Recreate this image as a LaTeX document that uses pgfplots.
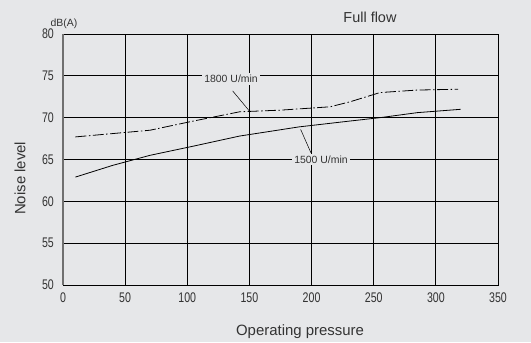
\documentclass[border=0pt]{standalone}
\usepackage{fontspec}
\setmainfont{Liberation Sans}
\newfontfamily\tickfont[FakeStretch=0.76]{Liberation Sans}
\usepackage{pgfplots}
\pgfplotsset{compat=1.18}
\definecolor{bg}{HTML}{E6E7E9}
\definecolor{txt}{HTML}{333333}
\definecolor{leftax}{HTML}{707070}

\begin{document}
\begin{tikzpicture}
  % page background
  \fill[bg] (-63bp,-57bp) rectangle (468bp,285bp);
  \begin{axis}[
    scale only axis,
    width=435bp,
    height=251bp,
    xmin=0, xmax=350,
    ymin=50, ymax=80,
    xtick={0,50,...,350},
    ytick={50,55,...,80},
    major tick length=0pt,
    grid=major,
    grid style={black, line width=0.9pt},
    axis line style={black, line width=0.9pt},
    tick label style={font=\tickfont\fontsize{14}{14}\selectfont, text=txt, inner sep=0pt},
    /pgf/number format/assume math mode=true,
    xticklabel style={anchor=north, yshift=-7.5bp},
    yticklabel style={anchor=east, xshift=-9bp},
    xlabel={Operating pressure},
    label style={font=\fontsize{15}{16}\selectfont, text=txt},
    xlabel style={at={(axis description cs:0.545,0)}, anchor=center, yshift=-47bp},
    clip=false,
  ]
    % 1500 U/min (solid)
    \addplot[black, line width=0.8pt] coordinates {
      (10,62.9) (40,64.3) (70,65.5) (105,66.6) (142,67.8)
      (190,68.9) (231,69.6) (255,70.0) (285,70.6) (320,71.0)
    };
    % 1800 U/min (dash-dot)
    \addplot[black, line width=0.8pt,
      dash pattern=on 11pt off 2.5pt on 1.5pt off 2.5pt] coordinates {
      (10,67.7) (40,68.1) (70,68.5) (105,69.6) (142,70.7)
      (175,70.9) (215,71.3) (231,71.9) (255,73.0) (285,73.3) (318,73.4)
    };
    % leader lines
    \draw[black, line width=0.5pt] (axis cs:136.5,73.2) -- (axis cs:150.5,70.7);
    \draw[black, line width=0.5pt] (axis cs:191.2,68.6) -- (axis cs:199.5,65.8);
    % line labels
    \node[fill=bg, inner xsep=2.5bp, inner ysep=2bp, text=txt, font=\fontsize{10.5}{12}\selectfont]
      at (axis cs:135.2,74.6) {1800 U/min};
    \node[fill=bg, inner xsep=2.5bp, inner ysep=2bp, text=txt, font=\fontsize{10.5}{12}\selectfont]
      at (axis cs:207.6,65.0) {1500 U/min};
    % unit, title, y label
    \node[text=txt, font=\fontsize{10.5}{12}\selectfont] at (axis cs:0.8,81.2) {dB(A)};
    \node[text=txt, font=\fontsize{14.5}{16}\selectfont] at (axis cs:247,82) {Full flow};
    \node[text=txt, font=\fontsize{15}{16}\selectfont, rotate=90, anchor=center]
      at ([xshift=-43bp]rel axis cs:0,0.425) {Noise level};
    % grey left axis line
    \draw[leftax, line width=1.6pt] (axis cs:0,50) -- (axis cs:0,80);
  \end{axis}
\end{tikzpicture}
\end{document}
